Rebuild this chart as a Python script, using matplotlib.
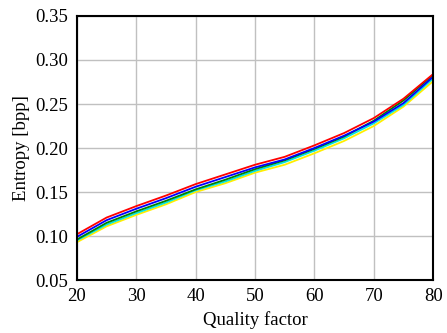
import matplotlib
matplotlib.use("Agg")
import matplotlib.pyplot as plt

quality = [20, 25, 30, 35, 40, 45, 50, 55, 60, 65, 70, 75, 80]
red    = [0.102, 0.121, 0.134, 0.146, 0.159, 0.170, 0.181, 0.190, 0.203, 0.217, 0.234, 0.256, 0.284]
blue   = [0.099, 0.118, 0.131, 0.143, 0.156, 0.167, 0.178, 0.187, 0.200, 0.214, 0.230, 0.251, 0.281]
green  = [0.096, 0.115, 0.128, 0.140, 0.153, 0.164, 0.176, 0.186, 0.199, 0.213, 0.231, 0.254, 0.283]
cyan   = [0.095, 0.113, 0.126, 0.138, 0.152, 0.162, 0.174, 0.184, 0.197, 0.211, 0.228, 0.249, 0.279]
yellow = [0.093, 0.111, 0.124, 0.136, 0.150, 0.160, 0.172, 0.181, 0.194, 0.208, 0.225, 0.247, 0.276]

series = [(yellow, "#ffee00"), (cyan, "#00e5e5"), (green, "#008000"), (blue, "#0000ff"), (red, "#ff0000")]

plt.rcParams['font.family'] = ['Liberation Serif', 'DejaVu Serif']
fig = plt.figure(figsize=(4.47, 3.33), dpi=100)
ax = fig.add_axes([0.172, 0.159, 0.797, 0.793])
for vals, c in series:
    ax.plot(quality, vals, color=c, lw=1.3)
ax.set_xlim(20, 80)
ax.set_ylim(0.05, 0.35)
ax.set_xticks(range(20, 81, 10))
ax.set_yticks([0.05, 0.10, 0.15, 0.20, 0.25, 0.30, 0.35])
ax.set_yticklabels(["0.05", "0.10", "0.15", "0.20", "0.25", "0.30", "0.35"])
ax.grid(True, color="#c0c0c0", lw=1)
ax.set_axisbelow(True)
for s in ax.spines.values():
    s.set_linewidth(1.5)
ax.tick_params(labelsize=13.5, length=0, pad=6)
ax.set_xlabel("Quality factor", fontsize=13.5)
ax.set_ylabel("Entropy [bpp]", fontsize=13.5)
fig.savefig("out.png", dpi=100)
